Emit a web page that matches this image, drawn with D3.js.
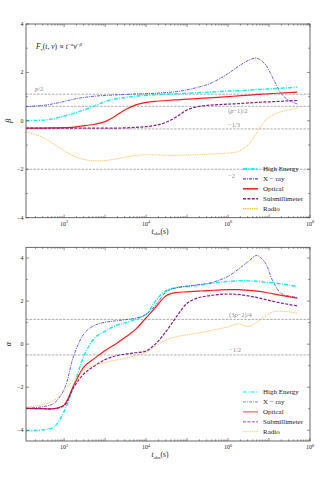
<!DOCTYPE html>
<html>
<head>
<meta charset="utf-8">
<script src="https://cdn.jsdelivr.net/npm/d3@7"></script>
<style>
body { margin: 0; background: #fff; }
svg text { font-family: "Liberation Serif", "DejaVu Serif", serif; }
</style>
</head>
<body>
<svg id="chart" width="320" height="480"></svg>
<script>
const logTime = [1.07, 1.5, 1.75, 2.0, 2.25, 2.5, 2.75, 3.0, 3.25, 3.5, 3.75, 4.0, 4.25, 4.5, 4.75,
  5.0, 5.25, 5.5, 5.75, 6.0, 6.25, 6.5, 6.7, 6.9, 7.1, 7.3, 7.5, 7.69];

const bands = ["High Energy", "X \u2212 ray", "Optical", "Submillimeter", "Radio"];

// spectral index beta
const betaHighEnergy = [0.01, 0.03, 0.09, 0.20, 0.32, 0.46, 0.62, 0.80, 0.90, 0.97, 1.02, 1.05, 1.08, 1.10, 1.12,
  1.14, 1.16, 1.18, 1.21, 1.23, 1.25, 1.27, 1.29, 1.31, 1.33, 1.35, 1.37, 1.39];
const betaXray = [0.59, 0.64, 0.71, 0.80, 0.90, 0.97, 1.02, 1.05, 1.07, 1.09, 1.11, 1.12, 1.14, 1.17, 1.21,
  1.28, 1.38, 1.50, 1.70, 1.95, 2.25, 2.50, 2.59, 2.35, 1.75, 1.12, 0.83, 0.70];
const betaOptical = [-0.30, -0.30, -0.29, -0.28, -0.26, -0.20, -0.14, -0.03, 0.20, 0.47, 0.66, 0.76, 0.81, 0.84, 0.87,
  0.90, 0.92, 0.95, 0.97, 1.00, 1.03, 1.06, 1.09, 1.11, 1.13, 1.15, 1.17, 1.19];
const betaSubmm = [-0.30, -0.30, -0.30, -0.30, -0.30, -0.30, -0.30, -0.30, -0.30, -0.29, -0.27, -0.24, -0.18, -0.05, 0.17,
  0.45, 0.58, 0.64, 0.67, 0.69, 0.71, 0.74, 0.76, 0.78, 0.79, 0.81, 0.83, 0.84];
const betaRadio = [-0.44, -0.70, -0.97, -1.22, -1.47, -1.60, -1.65, -1.64, -1.58, -1.50, -1.43, -1.40, -1.41, -1.42, -1.42,
  -1.41, -1.40, -1.38, -1.36, -1.33, -1.26, -0.98, -0.50, 0.00, 0.25, 0.38, 0.46, 0.52];

// temporal index alpha
const alphaHighEnergy = [-4.02, -3.98, -3.85, -3.13, -1.85, -0.48, 0.30, 0.60, 0.85, 1.00, 1.15, 1.38, 2.05, 2.50, 2.63,
  2.68, 2.73, 2.80, 2.87, 2.91, 2.94, 2.94, 2.92, 2.88, 2.85, 2.80, 2.74, 2.68];
const alphaXray = [-2.98, -2.90, -2.75, -2.10, -0.45, 0.52, 0.88, 1.02, 1.08, 1.14, 1.21, 1.38, 1.85, 2.45, 2.62,
  2.70, 2.76, 2.82, 2.95, 3.15, 3.48, 3.85, 4.12, 3.80, 2.90, 2.35, 2.23, 2.17];
const alphaOptical = [-2.98, -3.00, -3.00, -2.82, -1.85, -1.02, -0.65, -0.30, 0.00, 0.33, 0.70, 1.22, 1.75, 2.26, 2.40,
  2.43, 2.46, 2.49, 2.51, 2.53, 2.53, 2.50, 2.46, 2.41, 2.34, 2.27, 2.20, 2.14];
const alphaSubmm = [-2.98, -3.00, -3.00, -2.85, -1.95, -1.35, -1.00, -0.72, -0.55, -0.46, -0.40, -0.32, 0.05, 0.62, 1.30,
  1.90, 2.14, 2.24, 2.30, 2.33, 2.31, 2.24, 2.17, 2.08, 1.99, 1.91, 1.84, 1.78];
const alphaRadio = [-2.93, -2.80, -2.62, -2.20, -1.60, -1.17, -0.97, -0.85, -0.75, -0.65, -0.53, -0.38, -0.07, 0.20, 0.35,
  0.43, 0.51, 0.60, 0.70, 0.80, 0.94, 0.82, 1.02, 1.30, 1.50, 1.53, 1.50, 1.44];

const p = 2.2;
const betaRefs = [
  { v: p / 2, label: "p/2" },
  { v: (p - 1) / 2, label: "(p\u22121)/2" },
  { v: -1 / 3, label: "\u22121/3" },
  { v: -2, label: "\u22122" }
];
const alphaRefs = [
  { v: (3 * p - 2) / 4, label: "(3p\u22122)/4" },
  { v: -1 / 2, label: "\u22121/2" }
];

const styles = [
  { color: "#22e8f0", width: 1.5, dash: "4,1.3,1,1.3" },
  { color: "#4b4bf0", width: 0.9, dash: "3,1,1,1" },
  { color: "#ff1a1a", width: 1.2, dash: null },
  { color: "#8a1a8a", width: 1.2, dash: "3,1.4" },
  { color: "#ffae2a", width: 0.8, dash: "1,0.8" }
];

const svg = d3.select("#chart");
const left = 26, right = 310;

const x = d3.scaleLog().domain([Math.pow(10, 1.07), 1e8]).range([left, right]);

function panel(opts) {
  const y = d3.scaleLinear().domain(opts.domain).range([opts.bottom, opts.top]);
  const g = svg.append("g");

  // reference lines
  opts.refs.forEach((r, i) => {
    g.append("line")
      .attr("x1", left).attr("x2", right)
      .attr("y1", y(r.v)).attr("y2", y(r.v))
      .attr("stroke", "#8a8a8a").attr("stroke-width", 0.7)
      .attr("stroke-dasharray", "2.5,1.2");
  });
  opts.refLabels.forEach(l => {
    const t = g.append("text")
      .attr("x", l.x).attr("y", y(opts.refs[l.i].v) + l.dy)
      .attr("font-size", 6.5).attr("fill", "#8a8a8a");
    const s = opts.refs[l.i].label;
    // italic p
    s.split(/(p)/).forEach(part => {
      if (part === "") return;
      t.append("tspan").attr("font-style", part === "p" ? "italic" : null).text(part);
    });
  });

  // curves
  const line = d3.line()
    .x((d, i) => x(Math.pow(10, logTime[i])))
    .y(d => y(d))
    .curve(d3.curveCatmullRom.alpha(0.5));
  opts.series.forEach((s, k) => {
    g.append("path")
      .attr("d", line(s))
      .attr("fill", "none")
      .attr("stroke", styles[k].color)
      .attr("stroke-width", styles[k].width)
      .attr("stroke-dasharray", styles[k].dash);
  });

  // frame
  g.append("rect")
    .attr("x", left).attr("y", opts.top)
    .attr("width", right - left).attr("height", opts.bottom - opts.top)
    .attr("fill", "none").attr("stroke", "#444").attr("stroke-width", 0.8);

  // y ticks (inward, both sides)
  const yMinor = d3.range(Math.ceil(opts.domain[0]), Math.floor(opts.domain[1]) + 1);
  yMinor.forEach(v => {
    const major = v % 2 === 0;
    const len = major ? 3 : 1.8;
    g.append("line").attr("x1", left).attr("x2", left + len)
      .attr("y1", y(v)).attr("y2", y(v)).attr("stroke", "#444").attr("stroke-width", 0.6);
    g.append("line").attr("x1", right).attr("x2", right - len)
      .attr("y1", y(v)).attr("y2", y(v)).attr("stroke", "#444").attr("stroke-width", 0.6);
    if (major) {
      g.append("text").attr("x", left - 2.5).attr("y", y(v) + 2)
        .attr("text-anchor", "end").attr("font-size", 6).attr("fill", "#222")
        .text(v < 0 ? "\u2212" + (-v) : v);
    }
  });

  // x ticks (log, inward, top and bottom)
  for (let e = 1; e <= 8; e++) {
    for (let m = 1; m <= 9; m++) {
      const t = m * Math.pow(10, e);
      if (t < x.domain()[0] || t > x.domain()[1] * 1.0001) continue;
      const len = m === 1 ? 3 : 1.6;
      g.append("line").attr("x1", x(t)).attr("x2", x(t))
        .attr("y1", opts.bottom).attr("y2", opts.bottom - len).attr("stroke", "#444").attr("stroke-width", 0.6);
      g.append("line").attr("x1", x(t)).attr("x2", x(t))
        .attr("y1", opts.top).attr("y2", opts.top + len).attr("stroke", "#444").attr("stroke-width", 0.6);
      if (m === 1 && e % 2 === 0) {
        const lab = g.append("text").attr("x", x(t)).attr("y", opts.bottom + 8)
          .attr("text-anchor", "middle").attr("font-size", 6).attr("fill", "#222");
        lab.append("tspan").text("10");
        lab.append("tspan").attr("font-size", 4.2).attr("dy", -2.5).text(e);
      }
    }
  }

  // axis labels
  const xl = g.append("text").attr("x", 160).attr("y", opts.bottom + 16)
    .attr("text-anchor", "middle").attr("font-size", 7.5).attr("fill", "#222");
  xl.append("tspan").attr("font-style", "italic").text("t");
  xl.append("tspan").attr("font-size", 5).attr("dy", 1.5).text("obs");
  xl.append("tspan").attr("dy", -1.5).text("(s)");

  g.append("text")
    .attr("transform", `translate(11,${(opts.top + opts.bottom) / 2}) rotate(-90)`)
    .attr("text-anchor", "middle").attr("font-size", 8).attr("font-style", "italic")
    .attr("fill", "#222").text(opts.ylabel);

  // legend
  bands.forEach((b, k) => {
    const ly = opts.legendY + k * 9.9;
    g.append("line").attr("x1", 243).attr("x2", 258).attr("y1", ly).attr("y2", ly)
      .attr("stroke", styles[k].color).attr("stroke-width", styles[k].width + 0.3)
      .attr("stroke-dasharray", styles[k].dash)
      .attr("opacity", opts.legendOpacity);
    g.append("text").attr("x", 263).attr("y", ly + 2.4)
      .attr("font-size", 7).attr("fill", "#222").text(b);
  });
  return y;
}

panel({
  top: 24, bottom: 217.7, domain: [-4, 4],
  series: [betaHighEnergy, betaXray, betaOptical, betaSubmm, betaRadio],
  refs: betaRefs,
  refLabels: [
    { i: 0, x: 35, dy: -3 },
    { i: 1, x: 228, dy: 6.5 },
    { i: 2, x: 228, dy: -1.5 },
    { i: 3, x: 228, dy: 8.5 }
  ],
  ylabel: "\u03b2", legendY: 169, legendOpacity: 1
});

panel({
  top: 247.3, bottom: 441, domain: [-4.5, 4.5],
  series: [alphaHighEnergy, alphaXray, alphaOptical, alphaSubmm, alphaRadio],
  refs: alphaRefs,
  refLabels: [
    { i: 0, x: 229, dy: -2.5 },
    { i: 1, x: 229, dy: -3 }
  ],
  ylabel: "\u03b1", legendY: 392, legendOpacity: 0.55
});

// formula annotation
const ann = svg.append("text").attr("x", 36).attr("y", 49)
  .attr("font-size", 7.5).attr("fill", "#222");
ann.append("tspan").attr("font-style", "italic").text("F");
ann.append("tspan").attr("font-style", "italic").attr("font-size", 5).attr("dy", 1.5).text("\u03bd");
ann.append("tspan").attr("dy", -1.5).text("(");
ann.append("tspan").attr("font-style", "italic").text("t");
ann.append("tspan").text(", ");
ann.append("tspan").attr("font-style", "italic").text("\u03bd");
ann.append("tspan").text(") \u221d ");
ann.append("tspan").attr("font-style", "italic").text("t");
ann.append("tspan").attr("font-size", 5).attr("dy", -3).text("\u2212");
ann.append("tspan").attr("font-size", 5).attr("font-style", "italic").text("\u03b1");
ann.append("tspan").attr("dy", 3).attr("font-style", "italic").text("\u03bd");
ann.append("tspan").attr("font-size", 5).attr("dy", -3).text("\u2212");
ann.append("tspan").attr("font-size", 5).attr("font-style", "italic").text("\u03b2");
</script>
</body>
</html>
